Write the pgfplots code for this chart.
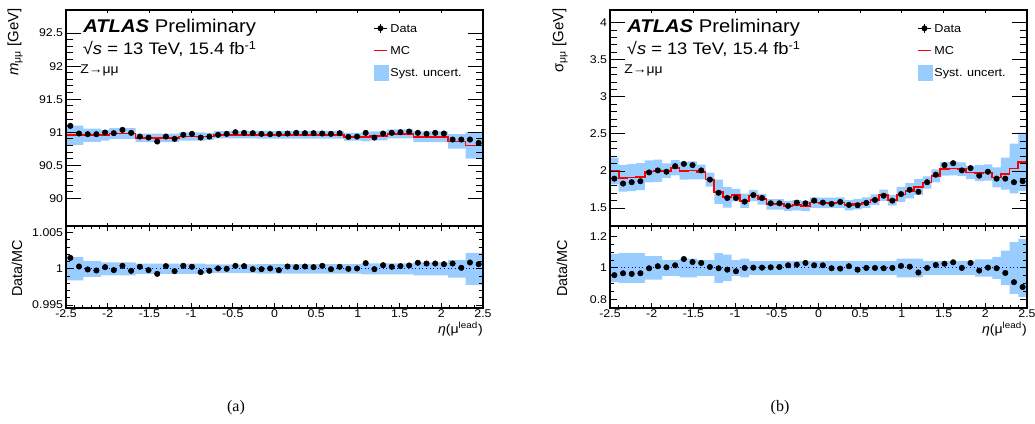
\documentclass[border=0pt]{standalone}
\usepackage{fontspec}
\setmainfont{Liberation Sans}[FakeStretch=1.1]
\newfontfamily\rotfont{Liberation Sans}
\newfontfamily\capfont{Liberation Serif}
\usepackage{pgfplots}
\usepackage{pgfplotstable}
\pgfplotsset{compat=1.18}
\usepgfplotslibrary{fillbetween}

\definecolor{systband}{HTML}{99CCFF}
\definecolor{mcred}{HTML}{FF0000}
\definecolor{unityblue}{HTML}{0000FF}

% e = lower bin edge, d = data, mc = simulation, r = data/MC,
% u = relative syst. uncertainty; the last row only closes the steps
\pgfplotstableread{
e d mc r u
-2.5 91.096 90.955 1.00151 0.0016
-2.39583 90.980 90.955 1.00032 0.0016
-2.29167 90.970 90.955 0.99991 0.0011
-2.1875 90.970 90.955 0.99977 0.0011
-2.08333 90.995 90.955 1.00023 0.0009
-1.97917 90.985 90.980 0.99982 0.0009
-1.875 91.035 90.980 1.00041 0.0009
-1.77083 90.990 90.980 0.99972 0.0009
-1.66667 90.934 90.915 1.00028 0.0007
-1.5625 90.919 90.915 0.99982 0.0007
-1.45833 90.859 90.915 0.99931 0.0007
-1.35417 90.934 90.915 1.00037 0.0007
-1.25 90.899 90.915 0.99968 0.0007
-1.14583 90.960 90.935 1.00041 0.0007
-1.04167 90.975 90.935 1.00028 0.0007
-0.9375 90.919 90.935 0.99954 0.0007
-0.83333 90.934 90.935 0.99972 0.0006
-0.72917 90.960 90.960 1.00005 0.0006
-0.625 90.975 90.960 1.00000 0.0006
-0.52083 91.000 90.960 1.00041 0.0006
-0.41667 90.990 90.960 1.00037 0.0006
-0.3125 90.985 90.960 0.99995 0.0006
-0.20833 90.975 90.960 0.99995 0.00065
-0.10417 90.970 90.960 1.00005 0.00065
0 90.975 90.960 0.99982 0.00065
0.10417 90.980 90.960 1.00032 0.00065
0.20833 90.990 90.960 1.00023 0.00065
0.3125 90.985 90.960 1.00032 0.00065
0.41667 90.985 90.960 1.00023 0.00065
0.52083 90.980 90.960 1.00041 0.00065
0.625 90.975 90.960 0.99995 0.00065
0.72917 90.985 90.960 1.00028 0.00065
0.83333 90.929 90.930 1.00000 0.00065
0.9375 90.934 90.930 1.00005 0.00065
1.04167 90.990 90.930 1.00078 0.00075
1.14583 90.919 90.945 0.99995 0.00075
1.25 90.980 90.945 1.00050 0.00075
1.35417 90.990 90.975 1.00028 0.00075
1.45833 91.000 90.975 1.00037 0.00075
1.5625 91.010 90.975 1.00046 0.00075
1.66667 90.990 90.930 1.00083 0.0009
1.77083 90.975 90.930 1.00073 0.0009
1.875 90.990 90.930 1.00073 0.0009
1.97917 90.980 90.930 1.00064 0.0009
2.08333 90.889 90.860 1.00073 0.0012
2.1875 90.889 90.860 1.00014 0.0012
2.29167 90.889 90.800 1.00087 0.0022
2.39583 90.838 90.800 1.00064 0.0022
2.5 90.838 90.800 1.00064 0.0022
}\massdata

\pgfplotstableread{
e d mc r u
-2.5 1.898 2.000 0.954 0.09
-2.39583 1.832 1.903 0.966 0.095
-2.29167 1.850 1.912 0.962 0.095
-2.1875 1.863 1.925 0.966 0.095
-2.08333 1.982 1.996 0.998 0.075
-1.97917 2.009 2.004 1.011 0.075
-1.875 1.991 2.004 1.004 0.05
-1.77083 2.066 2.044 1.017 0.05
-1.66667 2.097 2.004 1.057 0.06
-1.5625 2.080 2.009 1.038 0.06
-1.45833 2.009 1.987 1.032 0.05
-1.35417 1.885 1.885 1.006 0.05
-1.25 1.708 1.721 0.998 0.095
-1.14583 1.637 1.646 0.989 0.085
-1.04167 1.637 1.677 0.979 0.05
-0.9375 1.588 1.600 1.000 0.06
-0.83333 1.677 1.670 1.002 0.045
-0.72917 1.637 1.620 1.002 0.045
-0.625 1.566 1.552 1.004 0.045
-0.52083 1.566 1.552 1.006 0.045
-0.41667 1.531 1.530 1.017 0.045
-0.3125 1.575 1.540 1.021 0.045
-0.20833 1.566 1.530 1.032 0.045
-0.10417 1.602 1.575 1.017 0.045
0 1.575 1.570 1.017 0.045
0.10417 1.558 1.570 0.998 0.045
0.20833 1.584 1.575 0.996 0.045
0.3125 1.544 1.540 1.011 0.045
0.41667 1.540 1.555 0.989 0.045
0.52083 1.571 1.575 1.000 0.045
0.625 1.611 1.615 1.000 0.045
0.72917 1.668 1.674 0.998 0.045
0.83333 1.602 1.607 1.000 0.045
0.9375 1.690 1.685 1.013 0.06
1.04167 1.748 1.735 1.008 0.06
1.14583 1.721 1.785 0.971 0.06
1.25 1.850 1.845 1.000 0.045
1.35417 1.951 1.935 1.019 0.045
1.45833 2.080 2.030 1.027 0.045
1.5625 2.106 2.035 1.036 0.045
1.66667 2.009 2.025 1.000 0.045
1.77083 2.040 1.980 1.032 0.045
1.875 1.938 1.972 0.983 0.055
1.97917 1.991 1.980 1.002 0.055
2.08333 1.898 1.915 0.998 0.07
2.1875 1.898 1.965 0.968 0.11
2.29167 1.850 2.035 0.909 0.165
2.39583 1.863 2.125 0.878 0.185
2.5 1.863 2.125 0.878 0.185
}\widthdata

\pgfplotsset{
  zpanel/.style={
    scale only axis, width=312.75pt, anchor=north west,
    xmin=-2.5, xmax=2.5,
    xtick={-2.5,-2,-1.5,-1,-0.5,0,0.5,1,1.5,2,2.5},
    minor x tick num=4,
    tick align=inside,
    axis line style={line width=0.9pt},
    tick style={black, line width=0.7pt},
    tick label style={font=\fontsize{8.4}{9}\selectfont, inner sep=0pt},
    xticklabel style={anchor=base, yshift=-6.75pt},
    yticklabel style={anchor=east, xshift=-2pt},
    axis on top,
  },
  zmain/.style={
    zpanel, height=162pt, xticklabels={}, minor y tick num=4,
    xtick style={/pgfplots/major tick length=1.9pt, /pgfplots/minor tick length=1pt},
    ytick style={/pgfplots/major tick length=11.25pt, /pgfplots/minor tick length=5.5pt},
    legend style={draw=none, fill=none, at={(0.7354,0.9525)}, anchor=north west,
      inner sep=0pt, row sep=5.3pt, column sep=1.8pt,
      font=\fontsize{8.6}{9}\selectfont,
      nodes={inner sep=0pt, anchor=base west, text height=9pt, text depth=2.3pt}},
    legend cell align=left,
  },
  zratio/.style={
    zpanel, height=61.5pt,
    xticklabels={-2.5,-2,-1.5,-1,-0.5,0,0.5,1,1.5,2,2.5},
    xtick style={/pgfplots/major tick length=3.75pt, /pgfplots/minor tick length=2.2pt},
    ytick style={/pgfplots/major tick length=5.5pt, /pgfplots/minor tick length=3pt},
  },
  datalegend/.style={legend image code/.code={
    \draw[black, line width=0.7pt] (0pt,3.1pt)--(10pt,3.1pt) (5pt,-0.4pt)--(5pt,6.6pt);
    \fill[black] (5pt,3.1pt) circle[radius=2pt];}},
  mclegend/.style={legend image code/.code={
    \draw[mcred, line width=1.3pt] (0pt,3.1pt)--(10pt,3.1pt);}},
  bandlegend/.style={legend image code/.code={
    \fill[systband] (0pt,-2.4pt) rectangle (10.5pt,8.85pt);}},
}

\newcommand{\atlaslabels}[1]{%
  \node[anchor=base west, inner sep=0pt, font=\fontsize{13.8}{15}\selectfont]
    at ([xshift=12.75pt,yshift=-17.25pt]#1.north west) {\textbf{\textit{ATLAS}} Preliminary};
  \node[anchor=base west, inner sep=0pt, font=\fontsize{12.5}{14}\selectfont]
    at ([xshift=12.5pt,yshift=-33.75pt]#1.north west) {√\textit{s} = 13 TeV, 15.4 fb\textsuperscript{-1}};
  \node[anchor=base west, inner sep=0pt, font=\fontsize{9.5}{11}\selectfont]
    at ([xshift=10.5pt,yshift=-47.5pt]#1.north west) {Z→μμ};
}

\begin{document}
\begin{tikzpicture}

% ---- (a) mean dimuon mass ----
\begin{axis}[zmain, name=amain, at={(49.5pt,-7.5pt)},
  ymin=89.58, ymax=92.85,
  ytick={90,90.5,91,91.5,92,92.5}, yticklabels={90,90.5,91,91.5,92,92.5}]
\addlegendimage{datalegend}\addlegendentry{Data}
\addlegendimage{mclegend}\addlegendentry{MC}
\addlegendimage{bandlegend}\addlegendentry{Syst. uncert.}
\addplot[name path=amhi, draw=none, const plot, forget plot]
  table[x=e, y expr=\thisrow{mc}*(1+\thisrow{u})] {\massdata};
\addplot[name path=amlo, draw=none, const plot, forget plot]
  table[x=e, y expr=\thisrow{mc}*(1-\thisrow{u})] {\massdata};
\addplot[fill=systband, draw=none, forget plot] fill between[of=amhi and amlo];
\addplot[mcred, line width=1.3pt, const plot, forget plot] table[x=e, y=mc] {\massdata};
\addplot[black, only marks, mark=*, mark size=2.05pt, forget plot,
  skip coords between index={48}{49}]
  table[x expr=\thisrow{e}+0.0520833, y=d] {\massdata};
\end{axis}

\begin{axis}[zratio, name=aratio, at={(49.5pt,-169.5pt)},
  ymin=0.9946, ymax=1.0059, minor y tick num=4,
  ytick={0.995,1,1.005}, yticklabels={0.995,1,1.005}]
\addplot[name path=arhi, draw=none, const plot]
  table[x=e, y expr=1+\thisrow{u}] {\massdata};
\addplot[name path=arlo, draw=none, const plot]
  table[x=e, y expr=1-\thisrow{u}] {\massdata};
\addplot[fill=systband, draw=none] fill between[of=arhi and arlo];
\addplot[unityblue, dotted, line width=0.7pt] coordinates {(-2.5,1) (2.5,1)};
\addplot[black, only marks, mark=*, mark size=2.05pt,
  skip coords between index={48}{49}]
  table[x expr=\thisrow{e}+0.0520833, y=r] {\massdata};
\end{axis}

% ---- (b) dimuon mass width ----
\begin{axis}[zmain, name=bmain, at={(457.5pt,-7.5pt)},
  ymin=1.26, ymax=4.17,
  ytick={1.5,2,2.5,3,3.5,4}, yticklabels={1.5,2,2.5,3,3.5,4}]
\addlegendimage{datalegend}\addlegendentry{Data}
\addlegendimage{mclegend}\addlegendentry{MC}
\addlegendimage{bandlegend}\addlegendentry{Syst. uncert.}
\addplot[name path=bmhi, draw=none, const plot, forget plot]
  table[x=e, y expr=\thisrow{mc}*(1+\thisrow{u})] {\widthdata};
\addplot[name path=bmlo, draw=none, const plot, forget plot]
  table[x=e, y expr=\thisrow{mc}*(1-\thisrow{u})] {\widthdata};
\addplot[fill=systband, draw=none, forget plot] fill between[of=bmhi and bmlo];
\addplot[mcred, line width=1.3pt, const plot, forget plot] table[x=e, y=mc] {\widthdata};
\addplot[black, only marks, mark=*, mark size=2.05pt, forget plot,
  skip coords between index={48}{49}]
  table[x expr=\thisrow{e}+0.0520833, y=d] {\widthdata};
\end{axis}

\begin{axis}[zratio, name=bratio, at={(457.5pt,-169.5pt)},
  ymin=0.744, ymax=1.268, minor y tick num=3,
  ytick={0.8,1,1.2}, yticklabels={0.8,1,1.2}]
\addplot[name path=brhi, draw=none, const plot]
  table[x=e, y expr=1+\thisrow{u}] {\widthdata};
\addplot[name path=brlo, draw=none, const plot]
  table[x=e, y expr=1-\thisrow{u}] {\widthdata};
\addplot[fill=systband, draw=none] fill between[of=brhi and brlo];
\addplot[unityblue, dotted, line width=0.7pt] coordinates {(-2.5,1) (2.5,1)};
\addplot[black, only marks, mark=*, mark size=2.05pt,
  skip coords between index={48}{49}]
  table[x expr=\thisrow{e}+0.0520833, y=r] {\widthdata};
\end{axis}

% ---- titles and labels ----
\atlaslabels{amain}
\atlaslabels{bmain}

\node[rotate=90, anchor=east, inner sep=0pt, font=\rotfont\fontsize{11.2}{12}\selectfont]
  at ([xshift=-38.25pt,yshift=1.5pt]amain.north west) {\textit{m}\textsubscript{μμ} [GeV]};
\node[rotate=90, anchor=east, inner sep=0pt, font=\rotfont\fontsize{11.2}{12}\selectfont]
  at ([xshift=-37.5pt,yshift=1.5pt]bmain.north west) {σ\textsubscript{μμ} [GeV]};
\node[rotate=90, inner sep=0pt, font=\rotfont\fontsize{10.8}{12}\selectfont]
  at ([xshift=-36.75pt,yshift=-1pt]aratio.west) {Data/MC};
\node[rotate=90, inner sep=0pt, font=\rotfont\fontsize{10.8}{12}\selectfont]
  at ([xshift=-36pt,yshift=-1pt]bratio.west) {Data/MC};
\node[anchor=base east, inner sep=0pt, font=\fontsize{9.6}{11}\selectfont]
  at ([yshift=-18.75pt]aratio.south east) {\textit{η}(μ\textsuperscript{lead})};
\node[anchor=base east, inner sep=0pt, font=\fontsize{9.6}{11}\selectfont]
  at ([yshift=-18.75pt]bratio.south east) {\textit{η}(μ\textsuperscript{lead})};

\node[anchor=base, inner sep=0pt, font=\capfont\fontsize{12}{14}\selectfont] at (177pt,-308.25pt) {(a)};
\node[anchor=base, inner sep=0pt, font=\capfont\fontsize{12}{14}\selectfont] at (585pt,-308.25pt) {(b)};

% page = the reference frame, 1035 x 424 px at 0.75 pt per px
\pgfresetboundingbox
\useasboundingbox (0pt,0pt) rectangle (776.25pt,-318pt);
\end{tikzpicture}
\end{document}
